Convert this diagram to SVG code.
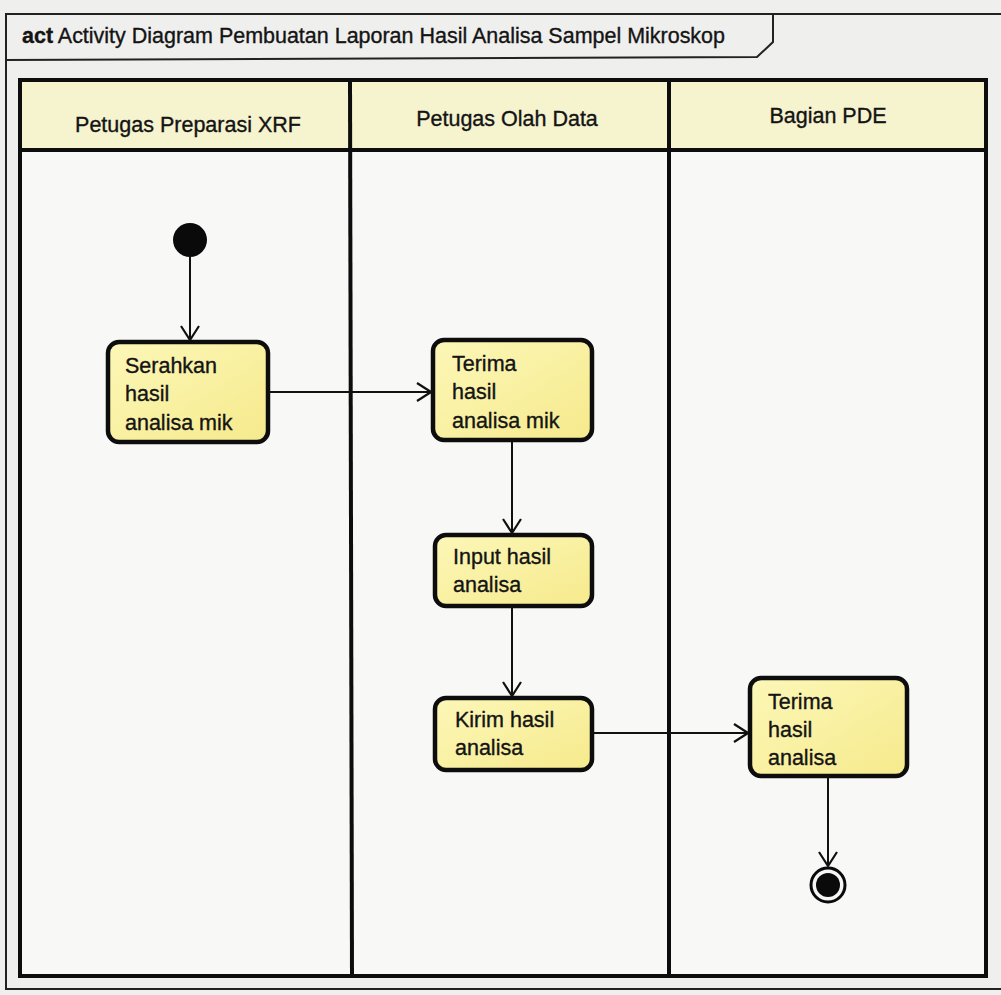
<svg xmlns="http://www.w3.org/2000/svg" width="1001" height="995" viewBox="0 0 1001 995">
  <style>
    text { font-family: "Liberation Sans", Arial, sans-serif; fill: #141414; stroke: #141414; stroke-width: 0.35; }
    .lbl { font-size: 21.5px; }
    .hdr { font-size: 21.5px; }
    .title { font-size: 21.5px; }
    .frame { fill: none; stroke: #222; stroke-width: 2; }
    .lane { fill: none; stroke: #0d0d0d; stroke-width: 4; }
    .act { fill: url(#actFill); stroke: #0d0d0d; stroke-width: 4.5; }
    .flow { fill: none; stroke: #111; stroke-width: 2; marker-end: url(#open); }
  </style>
  <defs>
    <linearGradient id="actFill" x1="0" y1="0" x2="1" y2="1">
      <stop offset="0" stop-color="#fcf7b8"/>
      <stop offset="1" stop-color="#f6ea8c"/>
    </linearGradient>
    <marker id="open" viewBox="0 0 16 20" refX="15" refY="10" markerWidth="16" markerHeight="20" markerUnits="userSpaceOnUse" orient="auto">
      <path d="M1,1 L15,10 L1,19" fill="none" stroke="#111" stroke-width="2.2"/>
    </marker>
  </defs>

  <!-- paper -->
  <rect x="0" y="0" width="1001" height="995" fill="#efefee"/>

  <!-- diagram frame with name tab -->
  <g id="frame">
    <rect x="6" y="14" width="1000" height="975" fill="#f6f6f5" class="frame"/>
    <path class="frame" d="M6,60 L757,57 L773,42 L773,13"/>
    <text class="title" x="22" y="43" textLength="703" lengthAdjust="spacingAndGlyphs"><tspan font-weight="bold">act</tspan> Activity Diagram Pembuatan Laporan Hasil Analisa Sampel Mikroskop</text>
  </g>

  <!-- swimlanes -->
  <g id="lanes">
    <rect x="20" y="80" width="966" height="70" fill="#f6f3cf"/>
    <rect x="20" y="150" width="966" height="826" fill="#f8f8f7"/>
    <rect class="lane" x="20" y="80" width="966" height="896"/>
    <line class="lane" x1="20" y1="150" x2="986" y2="150"/>
    <line class="lane" x1="350" y1="80" x2="352" y2="976"/>
    <line class="lane" x1="669" y1="80" x2="669" y2="976"/>
    <text class="hdr" x="188" y="132" text-anchor="middle">Petugas Preparasi XRF</text>
    <text class="hdr" x="507" y="126" text-anchor="middle">Petugas Olah Data</text>
    <text class="hdr" x="828" y="123" text-anchor="middle">Bagian PDE</text>
  </g>

  <!-- initial node -->
  <g id="start">
    <circle cx="190" cy="240" r="17" fill="#0a0a0a"/>
  </g>

  <g id="serahkan">
    <rect class="act" x="108" y="342" width="160" height="100" rx="11"/>
    <text class="lbl" x="125" y="373">Serahkan</text>
    <text class="lbl" x="125" y="401">hasil</text>
    <text class="lbl" x="125" y="430">analisa mik</text>
  </g>

  <g id="terima-mik">
    <rect class="act" x="433" y="340" width="159" height="100" rx="11"/>
    <text class="lbl" x="452" y="371">Terima</text>
    <text class="lbl" x="452" y="399">hasil</text>
    <text class="lbl" x="452" y="428">analisa mik</text>
  </g>

  <g id="input">
    <rect class="act" x="435" y="535" width="157" height="71" rx="11"/>
    <text class="lbl" x="453" y="564">Input hasil</text>
    <text class="lbl" x="453" y="592">analisa</text>
  </g>

  <g id="kirim">
    <rect class="act" x="435" y="698" width="157" height="72" rx="11"/>
    <text class="lbl" x="455" y="727">Kirim hasil</text>
    <text class="lbl" x="455" y="755">analisa</text>
  </g>

  <g id="terima-pde">
    <rect class="act" x="750" y="678" width="157" height="98" rx="11"/>
    <text class="lbl" x="768" y="709">Terima</text>
    <text class="lbl" x="768" y="737">hasil</text>
    <text class="lbl" x="768" y="765">analisa</text>
  </g>

  <!-- final node -->
  <g id="end">
    <circle cx="828" cy="885" r="17" fill="#f5f5f5" stroke="#0a0a0a" stroke-width="3"/>
    <circle cx="828" cy="885" r="12" fill="#0a0a0a"/>
  </g>

  <!-- control flows -->
  <g id="flows">
    <path class="flow" d="M190,257 L190,340"/>
    <path class="flow" d="M268,392 L431,392"/>
    <path class="flow" d="M512,440 L512,533"/>
    <path class="flow" d="M512,606 L512,696"/>
    <path class="flow" d="M592,733 L748,733"/>
    <path class="flow" d="M828,776 L828,866"/>
  </g>
</svg>
